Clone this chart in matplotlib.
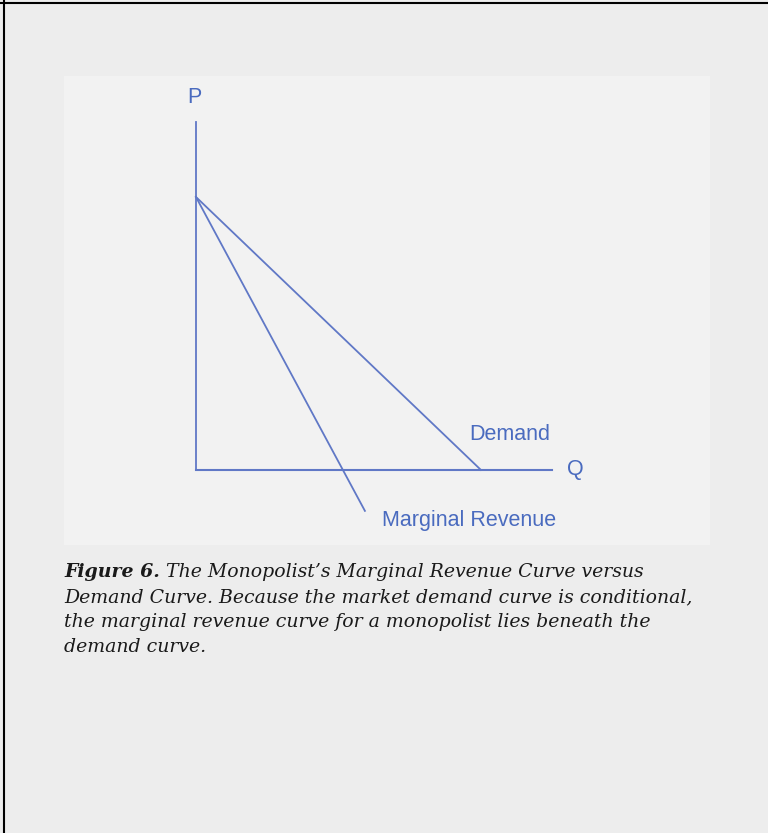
import matplotlib.pyplot as plt
from matplotlib.lines import Line2D

# price / quantity values of the sketch (arbitrary units)
demand_q = [0, 10]
demand_p = [10, 0]
mr_q = [0, 5.93]
mr_p = [10, -1.5]
p_axis_top = 12.75
q_axis_end = 12.5

axis_labels = ["P", "Q"]
curve_labels = ["Demand", "Marginal Revenue"]

caption_bold = "Figure 6."
caption_lines = [
    " The Monopolist\u2019s Marginal Revenue Curve versus",
    "Demand Curve. Because the market demand curve is conditional,",
    "the marginal revenue curve for a monopolist lies beneath the",
    "demand curve.",
]

W, H = 768, 833
line_color = "#6078c6"
text_color = "#4a6bbf"


def main():
    fig = plt.figure(figsize=(W / 100, H / 100), dpi=100)
    fig.patch.set_facecolor("#ededed")

    # panel holding the sketch
    left, right, top, bottom = 64, 710, 76, 545
    ax = fig.add_axes([left / W, 1 - bottom / H, (right - left) / W, (bottom - top) / H])
    ax.set_facecolor("#f2f2f2")
    for s in ax.spines.values():
        s.set_visible(False)
    ax.set_xticks([])
    ax.set_yticks([])
    ax.set_xlim(-4.63, 18.04)
    ax.set_ylim(-2.75, 14.43)

    ax.plot([0, 0], [0, p_axis_top], color=line_color, lw=1.3)
    ax.plot([0, q_axis_end], [0, 0], color=line_color, lw=1.5)
    ax.plot(demand_q, demand_p, color=line_color, lw=1.3)
    ax.plot(mr_q, mr_p, color=line_color, lw=1.3)

    font = dict(family="Liberation Sans", fontsize=15.5, color=text_color)
    ax.text(-0.04, 13.63, axis_labels[0], ha="center", va="center", **font)
    ax.text(13.33, 0, axis_labels[1], ha="center", va="center", **font)
    ax.text(11.0, 1.28, curve_labels[0], ha="center", va="center", **font)
    ax.text(9.58, -1.87, curve_labels[1], ha="center", va="center", **font)

    # caption
    cap = dict(family="DejaVu Serif", style="italic", fontsize=13.6, color="#1a1a1a")
    x0 = 64 / W
    t = fig.text(x0, 1 - 577 / H, caption_bold, weight="bold", va="baseline", **cap)
    fig.canvas.draw()
    bb = t.get_window_extent()
    fig.text(bb.x1 / W, 1 - 577 / H, caption_lines[0], va="baseline", **cap)
    for i, line in enumerate(caption_lines[1:], start=1):
        fig.text(x0, 1 - (577 + 25 * i) / H, line, va="baseline", **cap)

    # frame edges on top and left
    fig.add_artist(Line2D([0, 1], [1 - 2.5 / H] * 2, color="black", lw=1.5))
    fig.add_artist(Line2D([3.5 / W] * 2, [0, 1], color="black", lw=1.5))

    fig.savefig("out.png", dpi=100, facecolor=fig.get_facecolor())
    plt.close(fig)


if __name__ == "__main__":
    main()
